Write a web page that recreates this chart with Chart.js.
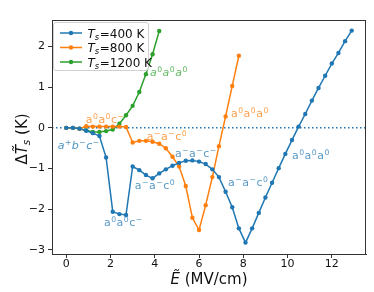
<!DOCTYPE html>
<html>
<head>
<meta charset="utf-8">
<script src="https://cdn.jsdelivr.net/npm/chart.js@4"></script>
<style>
  html, body { margin: 0; padding: 0; background: #fff; }
  #wrap { width: 374px; height: 292px; }
</style>
</head>
<body>
<div id="wrap"><canvas id="myChart" width="374" height="292"></canvas></div>
<script>
// field values (MV/cm)
var e400 = [0, 0.3, 0.6, 0.9, 1.2, 1.5, 1.8, 2.1, 2.4, 2.7, 3.0, 3.3, 3.6, 3.9, 4.2, 4.5, 4.8, 5.1, 5.4, 5.7,
            6.0, 6.3, 6.6, 6.9, 7.2, 7.5, 7.8, 8.1, 8.4, 8.7, 9.0, 9.3, 9.6, 9.9, 10.2, 10.5, 10.8, 11.1,
            11.4, 11.7, 12.0, 12.3, 12.6, 12.9];
var t400 = [0, 0, -0.02, -0.07, -0.13, -0.2, -0.73, -2.06, -2.12, -2.14, -0.95, -1.04, -1.16, -1.24, -1.12,
            -1.02, -0.93, -0.86, -0.81, -0.8, -0.83, -0.89, -1.02, -1.21, -1.57, -1.95, -2.47, -2.82, -2.47,
            -2.09, -1.71, -1.35, -0.99, -0.64, -0.3, 0.03, 0.34, 0.67, 0.98, 1.28, 1.58, 1.84, 2.13, 2.39];
var e800 = [0, 0.3, 0.6, 0.9, 1.2, 1.5, 1.8, 2.1, 2.4, 2.7, 3.0, 3.3, 3.6, 3.9, 4.2, 4.5, 4.8, 5.1, 5.4, 5.7,
            6.0, 6.3, 6.6, 6.9, 7.2, 7.5, 7.8];
var t800 = [0, 0, -0.02, 0.04, 0.03, 0.03, 0.03, 0.03, 0.03, 0.02, -0.36, -0.32, -0.32, -0.34, -0.39, -0.5,
            -0.71, -0.95, -1.43, -2.21, -2.51, -1.9, -1.21, -0.45, 0.28, 1.03, 1.77];
var e1200 = [0, 0.3, 0.6, 0.9, 1.2, 1.5, 1.8, 2.1, 2.4, 2.7, 3.0, 3.3, 3.6, 3.9, 4.2];
var t1200 = [0, 0, -0.02, -0.06, -0.1, -0.1, -0.08, -0.04, 0.1, 0.31, 0.54, 0.88, 1.32, 1.81, 2.38];

var seriesNames = ['400 K', '800 K', '1200 K'];
var xTicks = [0, 2, 4, 6, 8, 10, 12];
var yTicks = [-3, -2, -1, 0, 1, 2];

// phase labels: text parts [base, sup], anchor in data units
var phaseLabels = [
    { parts: [['a','0'],['a','0'],['a','0']], x: 3.78, y: 1.27, color: 'rgba(44,160,44,0.75)', italic: true },
    { parts: [['a','0'],['a','0'],['c','\u2212']], x: 0.88, y: 0.12, color: 'rgba(255,127,14,0.75)', italic: false },
    { parts: [['a','+'],['b','\u2212'],['c','\u2212']], x: -0.39, y: -0.52, color: 'rgba(31,119,180,0.8)', italic: true },
    { parts: [['a','\u2212'],['a','\u2212'],['c','0']], x: 3.64, y: -0.30, color: 'rgba(255,127,14,0.75)', italic: false },
    { parts: [['a','\u2212'],['a','\u2212'],['c','\u2212']], x: 4.91, y: -0.72, color: 'rgba(31,119,180,0.75)', italic: false },
    { parts: [['a','\u2212'],['a','\u2212'],['c','0']], x: 3.10, y: -1.51, color: 'rgba(31,119,180,0.75)', italic: false },
    { parts: [['a','0'],['a','0'],['c','\u2212']], x: 1.70, y: -2.41, color: 'rgba(31,119,180,0.75)', italic: false },
    { parts: [['a','\u2212'],['a','\u2212'],['c','0']], x: 7.31, y: -1.43, color: 'rgba(31,119,180,0.75)', italic: false },
    { parts: [['a','0'],['a','0'],['a','0']], x: 10.2, y: -0.77, color: 'rgba(31,119,180,0.75)', italic: false },
    { parts: [['a','0'],['a','0'],['a','0']], x: 7.44, y: 0.26, color: 'rgba(255,127,14,0.75)', italic: false }
];

var colors = ['#1f77b4', '#ff7f0e', '#2ca02c'];
var FONT = '"DejaVu Sans", sans-serif';

function pairs(xs, ys) {
    var out = [];
    for (var i = 0; i < xs.length; i++) {
        out.push({ x: xs[i], y: ys[i] });
    }
    return out;
}

function makeSet(xs, ys, c) {
    return {
        data: pairs(xs, ys),
        borderColor: c,
        backgroundColor: c,
        borderWidth: 1.5,
        pointRadius: 2.2,
        pointBorderWidth: 0,
        pointHoverRadius: 2.2,
        tension: 0,
        fill: false
    };
}

var xMin = -0.645, xMax = 13.545;

var datasets = [
    makeSet(e400, t400, colors[0]),
    makeSet(e800, t800, colors[1]),
    makeSet(e1200, t1200, colors[2]),
    {
        // dotted zero line
        data: [{ x: xMin, y: 0 }, { x: xMax, y: 0 }],
        borderColor: colors[0],
        borderWidth: 1.5,
        borderDash: [1.5, 2.5],
        pointRadius: 0,
        fill: false
    }
];

// draws base letters with superscripts
function drawRich(ctx, x, y, parts, size, italic, color) {
    var style = italic ? 'italic ' : '';
    ctx.fillStyle = color;
    ctx.textBaseline = 'alphabetic';
    ctx.textAlign = 'left';
    for (var i = 0; i < parts.length; i++) {
        ctx.font = style + size + 'px ' + FONT;
        ctx.fillText(parts[i][0], x, y);
        x += ctx.measureText(parts[i][0]).width + 0.5;
        ctx.font = (size * 0.7) + 'px ' + FONT;
        ctx.fillText(parts[i][1], x, y - size * 0.4);
        x += ctx.measureText(parts[i][1]).width + 0.5;
    }
}

function drawTsLabel(ctx, x, y, size, suffix) {
    ctx.fillStyle = '#111';
    ctx.textBaseline = 'alphabetic';
    ctx.textAlign = 'left';
    ctx.font = 'italic ' + size + 'px ' + FONT;
    ctx.fillText('T', x, y);
    x += ctx.measureText('T').width;
    ctx.font = 'italic ' + (size * 0.7) + 'px ' + FONT;
    ctx.fillText('s', x, y + size * 0.2);
    x += ctx.measureText('s').width + 0.5;
    ctx.font = size + 'px ' + FONT;
    ctx.fillText(suffix, x, y);
}

var extras = {
    id: 'extras',
    afterDraw: function (chart) {
        var ctx = chart.ctx;
        var a = chart.chartArea;
        var sx = chart.scales.x, sy = chart.scales.y;
        ctx.save();

        // frame
        ctx.strokeStyle = '#333';
        ctx.lineWidth = 1;
        ctx.strokeRect(Math.round(a.left) + 0.5, Math.round(a.top) + 0.5,
                       Math.round(a.right - a.left) - 1, Math.round(a.bottom - a.top));

        // phase labels
        phaseLabels.forEach(function (l) {
            drawRich(ctx, sx.getPixelForValue(l.x), sy.getPixelForValue(l.y), l.parts, 11, l.italic, l.color);
        });

        // legend
        var lx = 53.5, ly = 22.5, lw = 95, lh = 48;
        ctx.fillStyle = 'rgba(255,255,255,0.8)';
        ctx.strokeStyle = '#d0d0d0';
        ctx.lineWidth = 1;
        ctx.beginPath();
        ctx.roundRect(lx, ly, lw, lh, 2.5);
        ctx.fill();
        ctx.stroke();
        var rows = [33, 47.5, 62];
        for (var i = 0; i < 3; i++) {
            ctx.strokeStyle = colors[i];
            ctx.lineWidth = 1.5;
            ctx.beginPath();
            ctx.moveTo(60, rows[i]);
            ctx.lineTo(82, rows[i]);
            ctx.stroke();
            ctx.fillStyle = colors[i];
            ctx.beginPath();
            ctx.arc(71, rows[i], 2.2, 0, Math.PI * 2);
            ctx.fill();
            drawTsLabel(ctx, 87.5, rows[i] + 4.5, 12, '=' + seriesNames[i]);
        }

        // x title
        ctx.fillStyle = '#111';
        ctx.textBaseline = 'alphabetic';
        var xt1 = '\u1EBC', xt2 = ' (MV/cm)';
        ctx.font = 'italic 15px ' + FONT;
        var w1 = ctx.measureText(xt1).width;
        ctx.font = '15px ' + FONT;
        var w2 = ctx.measureText(xt2).width;
        var xs = (a.left + a.right) / 2 - (w1 + w2) / 2;
        ctx.font = 'italic 15px ' + FONT;
        ctx.fillText(xt1, xs, 284);
        ctx.font = '15px ' + FONT;
        ctx.fillText(xt2, xs + w1, 284);

        // y title (rotated)
        ctx.translate(27, (a.top + a.bottom) / 2 + 2);
        ctx.rotate(-Math.PI / 2);
        var p1 = '\u0394', p2 = 'T\u0303', p3 = 's', p4 = ' (K)';
        ctx.font = '15px ' + FONT;
        var q1 = ctx.measureText(p1).width;
        ctx.font = 'italic 15px ' + FONT;
        var q2 = ctx.measureText(p2).width;
        ctx.font = 'italic 10.5px ' + FONT;
        var q3 = ctx.measureText(p3).width;
        ctx.font = '15px ' + FONT;
        var q4 = ctx.measureText(p4).width;
        var x0 = -(q1 + q2 + q3 + q4) / 2;
        ctx.font = '15px ' + FONT;
        ctx.fillText(p1, x0, 0);
        ctx.font = 'italic 15px ' + FONT;
        ctx.fillText(p2, x0 + q1, 0);
        ctx.font = 'italic 10.5px ' + FONT;
        ctx.fillText(p3, x0 + q1 + q2, 3);
        ctx.font = '15px ' + FONT;
        ctx.fillText(p4, x0 + q1 + q2 + q3, 0);

        ctx.restore();
    }
};

var ctx = document.getElementById('myChart');
var myChart = new Chart(ctx, {
    type: 'line',
    data: { datasets: datasets },
    options: {
        responsive: false,
        animation: false,
        events: [],
        layout: { padding: { top: 20, right: 8, left: 0, bottom: 0 } },
        plugins: { legend: { display: false }, tooltip: { enabled: false } },
        scales: {
            x: {
                type: 'linear',
                min: xMin,
                max: xMax,
                afterBuildTicks: function (s) { s.ticks = xTicks.map(function (v) { return { value: v }; }); },
                afterFit: function (s) { s.height = 38; },
                grid: { drawOnChartArea: false, drawTicks: true, tickLength: 4, tickColor: '#333' },
                border: { display: true, color: '#333', width: 1 },
                ticks: { font: { family: FONT, size: 11 }, color: '#111', padding: 0, maxRotation: 0 }
            },
            y: {
                type: 'linear',
                min: -3.1,
                max: 2.65,
                afterBuildTicks: function (s) { s.ticks = yTicks.map(function (v) { return { value: v }; }); },
                afterFit: function (s) { s.width = 52; },
                grid: { drawOnChartArea: false, drawTicks: true, tickLength: 4, tickColor: '#333' },
                border: { display: true, color: '#333', width: 1 },
                ticks: {
                    font: { family: FONT, size: 11 }, color: '#111', padding: 3,
                    callback: function (v) { return v < 0 ? '\u2212' + Math.abs(v) : String(v); }
                }
            }
        }
    },
    plugins: [extras]
});
</script>
</body>
</html>
